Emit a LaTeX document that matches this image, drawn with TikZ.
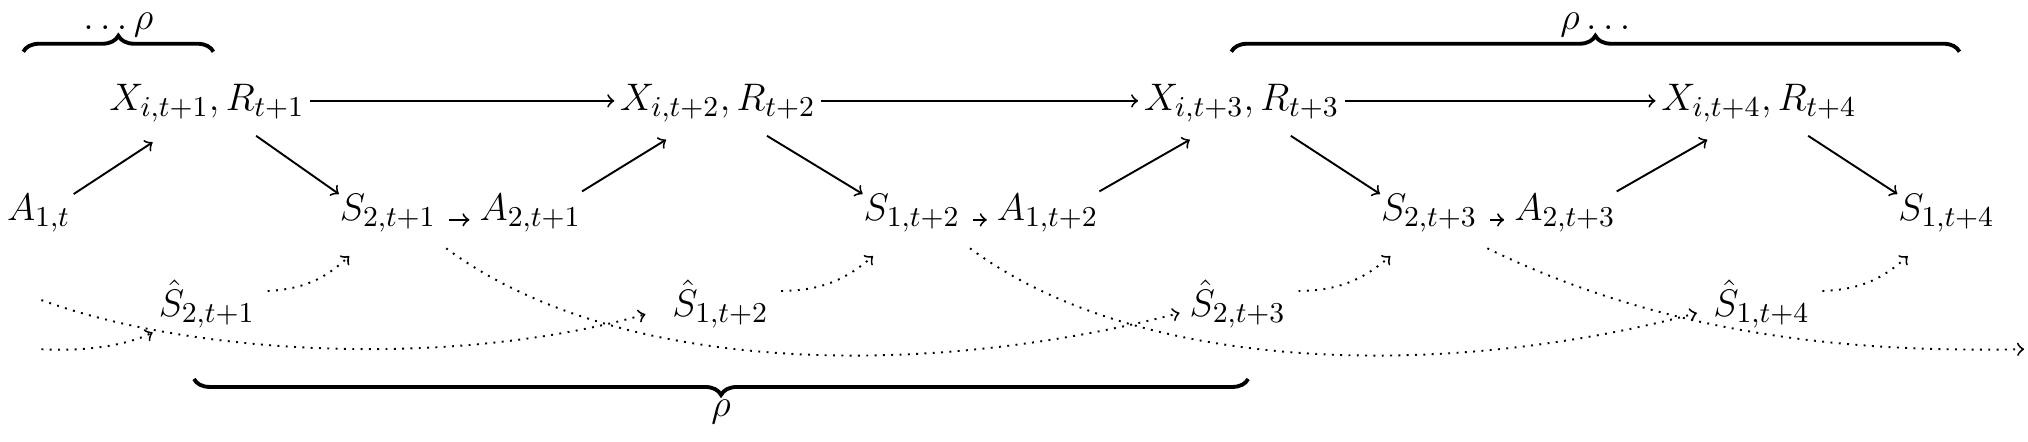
\documentclass[tikz,border=0pt]{standalone}
\usetikzlibrary{decorations.pathreplacing}
\begin{document}
\begin{tikzpicture}[x=0.4043pt,y=-0.4043pt,
  a/.style={->,line width=0.6pt},
  d/.style={->,dotted,line width=0.6pt},
  br/.style={decorate,decoration={brace,amplitude=5pt},line width=1.2pt},
  lab/.style={inner sep=1pt,font=\fontsize{12.8}{15}\selectfont}]
\useasboundingbox (0,0) rectangle (1568,341);
\node[lab] (X1) at (160,80) {$X_{i,t+1},R_{t+1}$};
\node[lab] (X2) at (555,80) {$X_{i,t+2},R_{t+2}$};
\node[lab] (X3) at (960,80) {$X_{i,t+3},R_{t+3}$};
\node[lab] (X4) at (1360,80) {$X_{i,t+4},R_{t+4}$};
\node[lab] (A0) at (30,165) {$A_{1,t}$};
\node[lab] (S1) at (300,165) {$S_{2,t+1}$};
\node[lab] (A1) at (410,165) {$A_{2,t+1}$};
\node[lab] (S2) at (705,165) {$S_{1,t+2}$};
\node[lab] (A2) at (810,165) {$A_{1,t+2}$};
\node[lab] (S3) at (1105,165) {$S_{2,t+3}$};
\node[lab] (A3) at (1210,165) {$A_{2,t+3}$};
\node[lab] (S4) at (1505,165) {$S_{1,t+4}$};
\node[lab] (H1) at (160,235) {$\hat S_{2,t+1}$};
\node[lab] (H2) at (557,235) {$\hat S_{1,t+2}$};
\node[lab] (H3) at (957,235) {$\hat S_{2,t+3}$};
\node[lab] (H4) at (1362,235) {$\hat S_{1,t+4}$};
% solid arrows
\foreach \p/\q in {X1/X2,X2/X3,X3/X4}
  \draw[a] ([shift={(80,-2)}]\p.center) -- ([shift={(-80,-2)}]\q.center);
\draw[a] ([shift={(27,-15)}]A0.center) -- ([shift={(-42,30)}]X1.center);
\foreach \l/\x in {A1/X2,A2/X3,A3/X4}
  \draw[a] ([shift={(40,-17)}]\l.center) -- ([shift={(-40,28)}]\x.center);
\foreach \x/\s in {X1/S1,X2/S2,X3/S3,X4/S4}
  \draw[a] ([shift={(38,25)}]\x.center) -- ([shift={(-38,-15)}]\s.center);
\foreach \s/\l in {S1/A1,S2/A2,S3/A3}
  \draw[a] ([shift={(47,5)}]\s.center) -- ([shift={(-47,5)}]\l.center);
% dotted short
\foreach \h/\s in {H1/S1,H2/S2,H3/S3,H4/S4}
  \draw[d] ([shift={(47,-10)}]\h.center) to[bend right=20] ([shift={(-30,33)}]\s.center);
% dotted long
\coordinate (L1) at (32,232);
\coordinate (L2) at (32,270);
\coordinate (E) at (1565,270);
\draw[d] (L2) .. controls (70,272) and (100,266) .. ([shift={(-42,22)}]H1.center);
\draw[d] (L1) .. controls (150,275) and (350,285) .. ([shift={(-58,8)}]H2.center);
\draw[d] ([shift={(45,27)}]S1.center) .. controls (480,292) and (720,292) .. ([shift={(-45,7)}]H3.center);
\draw[d] ([shift={(45,27)}]S2.center) .. controls (885,292) and (1125,292) .. ([shift={(-50,7)}]H4.center);
\draw[d] ([shift={(45,27)}]S3.center) .. controls (1300,265) and (1450,272) .. (E);
% braces
\draw[br] (18,40) -- node[above=3pt,lab] (B1) {$\ldots\rho$} (165,40);
\draw[br] (952,40) -- node[above=3pt,lab] (B2) {$\rho\ldots$} (1515,40);
\draw[br] (965,293) -- node[below=5pt,lab] (B3) {$\rho$} (150,293);
\end{tikzpicture}
\end{document}
